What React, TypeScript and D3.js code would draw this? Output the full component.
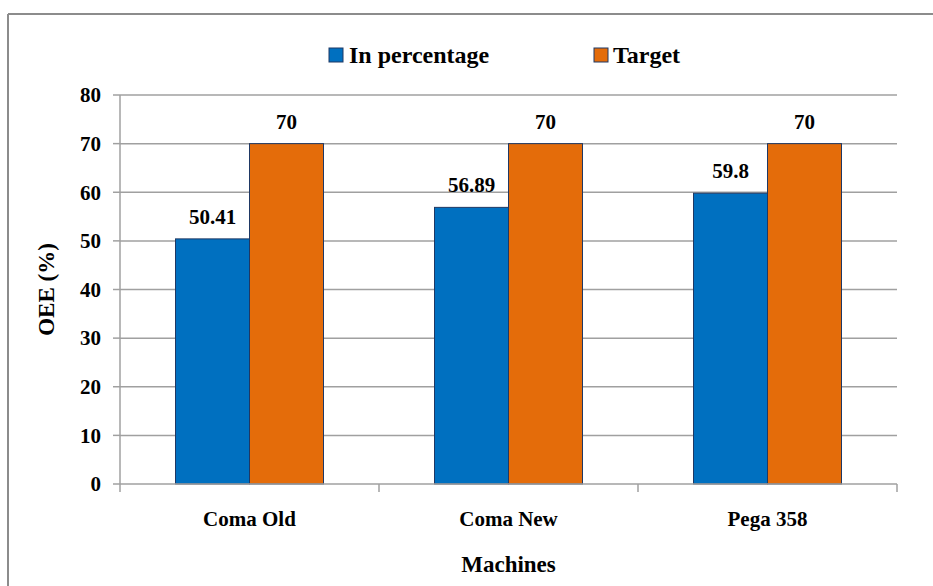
import React from "react";
import * as d3 from "d3";

const categories = ["Coma Old", "Coma New", "Pega 358"];
const seriesNames = ["In percentage", "Target"];
const inPercentage = [50.41, 56.89, 59.8];
const target = [70, 70, 70];
const valueLabels = [["50.41", "56.89", "59.8"], ["70", "70", "70"]];
const yTicks = [0, 10, 20, 30, 40, 50, 60, 70, 80];
const colors = ["#0070C0", "#E46C0A"];

const W = 933, H = 586;
const left = 120, right = 897, top = 95, bottom = 484;
const font = "'Liberation Serif', Tinos, 'Nimbus Roman', 'Nimbus Roman No9 L', FreeSerif, 'Noto Serif', 'DejaVu Serif', 'Times New Roman', Times, serif";
const ts = (size: number): React.CSSProperties => ({ fontFamily: font, fontWeight: 700, fontSize: size });

export default function App() {
  const y = d3.scaleLinear().domain([0, 80]).range([bottom, top]);
  const x0 = d3.scaleBand().domain(categories).range([left, right]).paddingInner(0).paddingOuter(0);
  const bw = x0.bandwidth();
  const groupW = bw * (148 / 259);
  const x1 = d3.scaleBand().domain(seriesNames).range([0, groupW]).padding(0);
  const series = [inPercentage, target];
  const gridColor = "#a0a0a0";
  return (
    <svg width={W} height={H} style={{ position: "absolute", left: 0, top: 0, background: "#fff" }}>
      <rect x={0} y={0} width={W} height={H} fill="#fff" />
      {/* outer border */}
      <line x1={8} y1={14} x2={W} y2={14} stroke="#8c8c8c" strokeWidth={2} />
      <line x1={8} y1={14} x2={8} y2={H} stroke="#8c8c8c" strokeWidth={2} />
      {/* gridlines */}
      {yTicks.map((t) => (
        <g key={t}>
          {t > 0 && <line x1={left} x2={right} y1={y(t)} y2={y(t)} stroke={gridColor} strokeWidth={1.5} />}
          <line x1={left - 7} x2={left} y1={y(t)} y2={y(t)} stroke={gridColor} strokeWidth={1.5} />
          <text x={left - 19} y={y(t)} dy="0.35em" textAnchor="end" style={ts(21)} fill="#000">{t}</text>
        </g>
      ))}
      {/* y axis */}
      <line x1={left} x2={left} y1={top} y2={bottom} stroke={gridColor} strokeWidth={1.5} />
      {/* bars */}
      {categories.map((c, i) => {
        const gx = (x0(c) as number) + (bw - groupW) / 2;
        return (
          <g key={c}>
            {series.map((s, j) => {
              const bx = gx + (x1(seriesNames[j]) as number);
              return (
                <g key={j}>
                  <rect x={bx} y={y(s[i])} width={x1.bandwidth()} height={bottom - y(s[i])} fill={colors[j]} stroke="#1f3864" strokeWidth={1} />
                  <text x={bx + x1.bandwidth() / 2} y={y(s[i]) - 15} textAnchor="middle" style={ts(21)} fill="#000">{valueLabels[j][i]}</text>
                </g>
              );
            })}
            <text x={(x0(c) as number) + bw / 2} y={526} textAnchor="middle" style={ts(21)} fill="#000">{c}</text>
          </g>
        );
      })}
      {/* x axis */}
      <line x1={left} x2={right} y1={bottom} y2={bottom} stroke={gridColor} strokeWidth={1.5} />
      {[0, 1, 2, 3].map((k) => {
        const tx = left + k * bw;
        return <line key={k} x1={tx} x2={tx} y1={bottom} y2={bottom + 8} stroke={gridColor} strokeWidth={1.5} />;
      })}
      {/* axis titles */}
      <text x={(left + right) / 2} y={572} textAnchor="middle" style={ts(23)} fill="#000">Machines</text>
      <text transform={`translate(54, ${(top + bottom) / 2}) rotate(-90)`} textAnchor="middle" style={ts(23)} fill="#000">OEE (%)</text>
      {/* legend */}
      <rect x={329} y={48} width={14} height={14} fill={colors[0]} stroke="#1f3864" strokeWidth={1} />
      <text x={349} y={63} style={ts(24)} fill="#000">{seriesNames[0]}</text>
      <rect x={594} y={48} width={14} height={14} fill={colors[1]} stroke="#1f3864" strokeWidth={1} />
      <text x={613} y={63} style={ts(24)} fill="#000">{seriesNames[1]}</text>
    </svg>
  );
}
